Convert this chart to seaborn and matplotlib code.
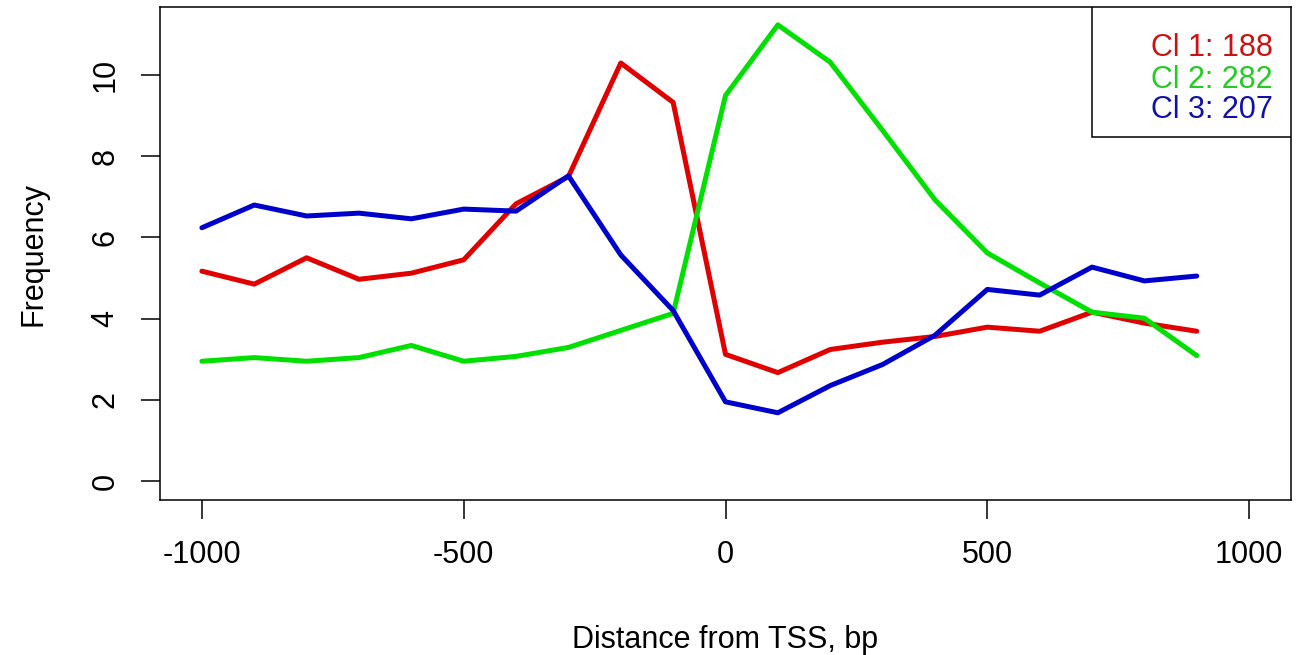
import numpy as np
import pandas as pd
import matplotlib
matplotlib.use("Agg")
import matplotlib.pyplot as plt
import seaborn as sns
from matplotlib.patches import Rectangle

# distance from TSS (bp)
distance = [-1000, -900, -800, -700, -600, -500, -400, -300, -200, -100,
            0, 100, 200, 300, 400, 500, 600, 700, 800, 900]

cl1 = [5.17, 4.85, 5.50, 4.97, 5.12, 5.45, 6.83, 7.50, 10.30, 9.33,
       3.12, 2.67, 3.24, 3.42, 3.56, 3.79, 3.69, 4.16, 3.89, 3.69]
cl2 = [2.95, 3.04, 2.95, 3.04, 3.34, 2.95, 3.07, 3.29, 3.71, 4.13,
       9.50, 11.24, 10.32, 8.64, 6.93, 5.62, 4.88, 4.16, 4.01, 3.09]
cl3 = [6.24, 6.80, 6.53, 6.60, 6.46, 6.70, 6.65, 7.52, 5.57, 4.20,
       1.95, 1.68, 2.35, 2.87, 3.59, 4.72, 4.58, 5.27, 4.93, 5.05]

cluster_names = ["Cl 1", "Cl 2", "Cl 3"]
cluster_sizes = [188, 282, 207]
line_colors = ["#e00000", "#00e000", "#0000cc"]
text_colors = ["#cc1111", "#22cc22", "#1111aa"]

x_ticks = [-1000, -500, 0, 500, 1000]
y_ticks = [0, 2, 4, 6, 8, 10]

df = pd.DataFrame({
    "distance": distance * 3,
    "freq": cl1 + cl2 + cl3,
    "cluster": [c for c in cluster_names for _ in distance],
})

sns.set_style("white")
plt.rcParams["font.family"] = ["Liberation Sans", "DejaVu Sans"]

fig = plt.figure(figsize=(13.01, 6.55), dpi=100)
ax = fig.add_axes([0.123, 0.2366, 0.8693, 0.7527])

sns.lineplot(data=df, x="distance", y="freq", hue="cluster",
             palette=line_colors, linewidth=3.6, legend=False, ax=ax)

ax.set_xlim(-1080, 1080)
ax.set_ylim(-0.47, 11.68)
ax.set_xticks(x_ticks)
ax.set_yticks(y_ticks)
ax.set_xticklabels([str(t) for t in x_ticks])
ax.set_yticklabels([str(t) for t in y_ticks], rotation=90, va="center")

ax.tick_params(axis="both", direction="out", length=13.5, width=1.1,
               color="black", labelsize=22, labelcolor="black", pad=15)
ax.tick_params(axis="y", pad=15)
ax.tick_params(bottom=True, left=True)

for sp in ax.spines.values():
    sp.set_visible(True)
    sp.set_color("black")
    sp.set_linewidth(1.1)

ax.set_xlabel("Distance from TSS, bp", fontsize=22, labelpad=40, color="black")
ax.set_ylabel("Frequency", fontsize=22, labelpad=30, color="black")

# legend box in the top right corner
ax.add_patch(Rectangle((0.824, 0.736), 0.176, 0.264, transform=ax.transAxes,
                       facecolor="white", edgecolor="black", linewidth=1.1,
                       zorder=5))
label_y = [0.917, 0.852, 0.791]
for name, n, col, yy in zip(cluster_names, cluster_sizes, text_colors, label_y):
    ax.text(0.984, yy, f"{name}: {n}", transform=ax.transAxes, ha="right",
            va="center", fontsize=22, color=col, zorder=6)

fig.savefig("out.png", dpi=100, facecolor="white")
